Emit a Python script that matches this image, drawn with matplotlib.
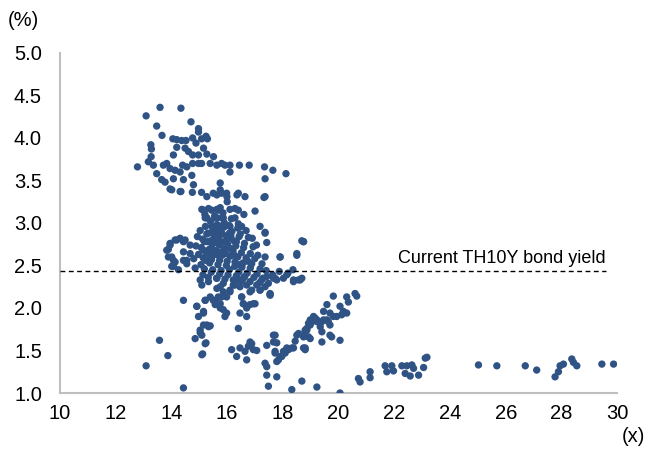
"""Scatter of PE multiple vs TH10Y bond yield, with current yield line."""

import numpy as np
import matplotlib.pyplot as plt

plt.rcParams['font.family'] = ['Liberation Sans', 'DejaVu Sans']

# (x, y) readings, split by area of the chart
upper_points = [
    (13.59, 4.36), (14.34, 4.35), (13.09, 4.26), (14.70, 4.19), (13.47, 4.14),
    (14.97, 4.11), (14.97, 4.07), (13.66, 4.03), (14.05, 3.99), (14.19, 3.98),
    (14.37, 3.97), (14.52, 3.97), (14.76, 4.00), (15.08, 3.99), (15.24, 4.02),
    (15.29, 3.99), (14.88, 3.94), (13.26, 3.92), (13.28, 3.87), (14.19, 3.89),
    (14.49, 3.88), (14.61, 3.84), (15.15, 3.88), (14.76, 3.80), (14.97, 3.80),
    (15.27, 3.81), (15.51, 3.78), (14.07, 3.80), (13.27, 3.78), (13.17, 3.72),
    (12.78, 3.66), (13.35, 3.68), (13.71, 3.68), (13.83, 3.70), (13.95, 3.64),
    (14.13, 3.62), (14.31, 3.60), (14.40, 3.68), (14.55, 3.66), (14.76, 3.70),
    (14.97, 3.70), (15.08, 3.70), (15.39, 3.70), (15.63, 3.68), (15.80, 3.70),
    (15.92, 3.68), (16.10, 3.68), (16.10, 3.60), (16.44, 3.68), (16.79, 3.68),
    (17.34, 3.66), (17.64, 3.62), (18.11, 3.58), (17.36, 3.52), (13.47, 3.58),
    (13.65, 3.51), (13.77, 3.48), (14.07, 3.52), (14.43, 3.51), (14.73, 3.56),
    (14.79, 3.45), (14.01, 3.39), (14.31, 3.37), (15.75, 3.47), (14.34, 3.37),
    (14.75, 3.36), (15.08, 3.36), (15.27, 3.31), (15.63, 3.33), (15.75, 3.39),
    (15.99, 3.31), (16.35, 3.33), (16.64, 3.31), (17.32, 3.30), (13.95, 3.40),
    (15.50, 3.35), (15.80, 3.35), (15.98, 3.35), (16.40, 3.35), (17.36, 3.31),
]

middle_points = [
    (15.09, 3.16), (15.33, 3.17), (15.63, 3.16), (15.75, 3.18), (16.10, 3.16),
    (16.28, 3.17), (17.00, 3.14), (15.27, 3.06), (15.63, 3.06), (15.80, 3.06),
    (16.28, 3.06), (15.45, 2.96), (15.75, 2.96), (16.10, 2.96), (16.52, 2.96),
    (17.18, 2.96), (17.36, 2.88), (18.68, 2.79), (15.15, 3.15), (15.45, 3.15),
    (15.68, 3.15), (16.40, 3.15), (15.21, 3.06), (15.57, 3.06), (15.86, 3.06),
    (17.36, 2.89), (17.42, 2.77), (18.74, 2.78), (18.50, 2.64), (17.90, 2.60),
    (17.36, 2.60), (15.40, 3.02), (15.55, 3.08), (15.90, 3.00), (16.15, 3.05),
    (16.40, 2.99), (15.20, 3.10), (16.60, 3.10), (16.00, 3.25), (15.85, 3.12),
    (18.50, 2.62), (18.74, 2.78),
]

left_points = [
    (13.95, 2.76), (14.19, 2.80), (14.43, 2.78), (14.67, 2.74), (13.89, 2.69),
    (14.01, 2.60), (14.13, 2.54), (14.43, 2.66), (14.55, 2.56), (14.07, 2.49),
    (13.83, 2.68), (13.95, 2.74), (14.13, 2.80), (14.31, 2.82), (14.49, 2.80),
    (13.89, 2.60), (14.07, 2.56), (14.01, 2.49), (14.25, 2.45), (14.43, 2.56),
    (14.55, 2.52), (14.67, 2.64),
]

core_points = [
    (15.03, 2.91), (15.22, 2.96), (15.31, 2.88), (15.52, 2.94), (15.64, 2.98),
    (15.77, 2.89), (15.88, 2.95), (16.07, 2.97), (16.17, 2.90), (16.38, 2.94),
    (16.47, 2.87), (16.68, 2.91), (14.93, 2.84), (15.12, 2.81), (15.27, 2.87),
    (15.41, 2.79), (15.53, 2.85), (15.72, 2.80), (15.83, 2.87), (16.03, 2.81),
    (16.13, 2.85), (16.33, 2.78), (16.43, 2.84), (16.62, 2.76), (16.76, 2.83),
    (14.88, 2.73), (15.07, 2.71), (15.18, 2.78), (15.36, 2.69), (15.46, 2.75),
    (15.62, 2.67), (15.71, 2.74), (15.89, 2.69), (16.01, 2.75), (16.21, 2.67),
    (16.31, 2.73), (16.51, 2.65), (16.59, 2.71), (16.83, 2.64), (16.93, 2.72),
    (14.97, 2.63), (15.14, 2.59), (15.26, 2.65), (15.44, 2.57), (15.56, 2.63),
    (15.73, 2.56), (15.82, 2.62), (16.00, 2.55), (16.11, 2.61), (16.28, 2.54),
    (16.38, 2.60), (16.57, 2.53), (16.68, 2.59), (16.88, 2.52), (16.99, 2.58),
    (15.06, 2.51), (15.18, 2.46), (15.37, 2.53), (15.48, 2.45), (15.67, 2.51),
    (15.78, 2.44), (15.97, 2.50), (16.08, 2.45), (16.27, 2.49), (16.42, 2.42),
    (16.53, 2.48), (16.72, 2.41), (16.83, 2.47), (17.07, 2.40), (17.18, 2.46),
    (15.13, 2.39), (15.32, 2.36), (15.43, 2.42), (15.62, 2.35), (15.73, 2.40),
    (15.92, 2.34), (16.03, 2.39), (16.22, 2.33), (16.33, 2.38), (16.52, 2.32),
    (16.63, 2.37), (16.82, 2.31), (16.96, 2.36), (17.17, 2.30), (17.28, 2.35),
    (17.48, 2.29), (17.63, 2.39), (17.87, 2.43), (18.02, 2.35), (18.18, 2.41),
    (18.36, 2.45), (15.45, 2.89), (15.58, 2.77), (15.66, 2.86), (15.78, 2.76),
    (15.82, 2.66), (15.92, 2.78), (16.08, 2.88), (15.52, 2.68), (15.38, 2.62),
    (16.12, 2.70), (15.95, 2.64), (15.68, 2.62), (16.25, 2.62), (15.30, 2.78),
    (15.15, 2.68), (15.60, 2.92), (15.98, 2.84), (16.24, 2.79), (15.24, 2.56),
    (16.45, 2.51), (16.74, 2.55), (17.10, 2.62), (17.25, 2.52), (14.80, 2.58),
    (14.85, 2.47), (17.40, 2.44), (17.05, 2.74), (16.90, 2.82),
]

lower_points = [
    (15.03, 2.33), (15.09, 2.27), (15.33, 2.31), (15.63, 2.35), (15.75, 2.25),
    (15.86, 2.19), (15.68, 2.13), (15.50, 2.09), (15.57, 2.04), (15.75, 2.00),
    (15.92, 1.90), (15.98, 2.13), (16.10, 2.19), (16.28, 2.27), (16.40, 2.33),
    (16.58, 2.35), (16.70, 2.27), (16.88, 2.21), (17.06, 2.27), (17.24, 2.33),
    (17.42, 2.37), (17.18, 2.21), (17.54, 2.17), (16.52, 2.13), (16.58, 2.05),
    (16.70, 2.00), (16.46, 1.94), (16.70, 1.90), (16.94, 2.05), (15.21, 2.09),
    (14.91, 2.02), (15.15, 1.96), (14.97, 1.90), (15.15, 1.80), (15.33, 1.78),
    (15.03, 1.74), (15.09, 1.68), (14.85, 1.64), (15.21, 1.58), (15.09, 1.45),
    (14.43, 2.09), (16.40, 1.76), (17.72, 2.35), (17.90, 2.60), (18.14, 2.39),
    (18.38, 2.33), (18.62, 2.33), (13.57, 1.62), (13.87, 1.44), (13.09, 1.32),
    (14.43, 1.06), (15.12, 1.46), (15.24, 1.59), (15.39, 1.79), (15.27, 1.80),
    (15.03, 1.71), (16.16, 1.51), (16.34, 1.43), (16.46, 1.53), (16.64, 1.49),
    (16.76, 1.55), (16.88, 1.58), (16.94, 1.51), (16.70, 1.39), (17.06, 1.50),
    (16.82, 1.60), (15.39, 2.13), (15.57, 2.09), (15.75, 2.05), (15.86, 1.98),
    (15.98, 1.94), (15.80, 2.13), (15.63, 2.23), (15.86, 2.29), (16.10, 2.21),
    (16.22, 2.27), (16.46, 2.25), (16.52, 2.13), (16.58, 2.05), (16.82, 2.19),
    (17.18, 2.21), (17.36, 2.25), (17.66, 2.35), (17.78, 2.33), (18.38, 2.31),
    (18.56, 2.33), (18.68, 2.35), (16.82, 2.04), (17.00, 2.05), (17.54, 2.16),
    (14.91, 2.02), (15.21, 2.09), (15.15, 1.94),
]

rising_points = [
    (17.42, 1.56), (17.66, 1.68), (17.78, 1.59), (17.72, 1.47), (17.90, 1.43),
    (18.02, 1.49), (18.14, 1.53), (18.38, 1.53), (18.44, 1.61), (18.50, 1.68),
    (18.74, 1.53), (18.80, 1.74), (18.92, 1.82), (18.98, 1.86), (19.10, 1.90),
    (19.22, 1.86), (17.78, 1.37), (19.81, 2.14), (20.29, 2.13), (20.59, 2.17),
    (20.65, 2.14), (20.35, 2.07), (19.58, 2.04), (19.46, 1.96), (19.69, 1.94),
    (20.05, 2.02), (20.17, 1.96), (19.93, 1.90), (20.29, 1.94), (19.22, 1.84),
    (18.98, 1.80), (19.40, 1.84), (19.58, 1.86), (19.34, 1.78), (19.69, 1.80),
    (18.86, 1.74), (18.74, 1.66), (19.40, 1.72), (19.69, 1.68), (18.98, 1.64),
    (18.56, 1.70), (18.32, 1.53), (18.20, 1.51), (18.08, 1.47), (17.96, 1.43),
    (17.84, 1.39), (17.72, 1.68), (17.66, 1.60), (17.72, 1.49), (18.80, 1.51),
    (19.40, 1.60), (20.05, 1.62), (17.54, 2.15), (20.11, 1.92), (19.81, 1.90),
    (19.63, 1.84), (19.46, 1.86), (19.16, 1.88), (19.04, 1.84), (18.86, 1.76),
    (18.80, 1.72), (19.75, 1.66), (18.92, 1.66), (18.80, 1.53),
]

bottom_points = [
    (17.42, 1.31), (17.42, 1.21), (17.78, 1.19), (17.48, 1.08), (18.32, 1.04),
    (18.68, 1.14), (19.22, 1.07), (20.05, 1.00), (17.36, 1.35),
    (20.71, 1.17), (20.77, 1.13), (21.13, 1.25), (21.13, 1.18), (21.67, 1.32),
    (21.73, 1.25), (21.91, 1.32), (21.97, 1.26), (22.27, 1.32), (22.39, 1.23),
    (22.45, 1.32), (22.57, 1.20), (22.63, 1.33), (22.69, 1.29), (22.87, 1.21),
    (23.05, 1.30), (23.11, 1.41), (23.17, 1.42), (25.02, 1.33), (25.68, 1.32),
    (26.70, 1.32), (27.11, 1.27), (27.77, 1.19), (27.89, 1.25), (27.95, 1.32),
    (28.07, 1.34), (28.37, 1.40), (28.43, 1.36), (28.55, 1.32), (29.45, 1.34),
    (29.87, 1.34),
]

bond_yield = 2.43
yield_line_end = 29.6
yield_label = 'Current TH10Y bond yield'


def main():
    groups = [upper_points, middle_points, left_points, core_points,
              lower_points, rising_points, bottom_points]
    pts = np.array([p for g in groups for p in g])

    fig = plt.figure(figsize=(6.49, 4.51), dpi=100)
    ax = fig.add_axes([0.0925, 0.1286, 0.8585, 0.754])

    ax.scatter(pts[:, 0], pts[:, 1], s=28, color='#2F5385',
               edgecolors='none', zorder=3)

    # current bond yield reference line
    ax.plot([10, yield_line_end], [bond_yield, bond_yield], color='black',
            linestyle=(0, (3.5, 2.5)), linewidth=1, zorder=4)
    ax.text(yield_line_end, bond_yield + 0.05, yield_label, ha='right',
            va='bottom', fontsize=13)

    ax.set_xlim(10, 30)
    ax.set_ylim(1.0, 5.0)
    ax.set_xticks(np.arange(10, 31, 2))
    ax.set_yticks(np.arange(1.0, 5.01, 0.5))
    ax.set_yticklabels([f'{v:.1f}' for v in np.arange(1.0, 5.01, 0.5)])
    ax.tick_params(length=0, labelsize=14.5)
    ax.tick_params(axis='y', pad=13)
    ax.tick_params(axis='x', pad=8)

    for side in ['top', 'right']:
        ax.spines[side].set_visible(False)
    for side in ['left', 'bottom']:
        ax.spines[side].set_color('#BFBFBF')
        ax.spines[side].set_linewidth(1.5)

    fig.text(8 / 649, 1 - 20 / 451, '(%)', fontsize=14.5, va='center')
    fig.text(645 / 649, 1 - 437 / 451, '(x)', fontsize=14.5, va='center',
             ha='right')

    fig.savefig('out.png', dpi=100)


if __name__ == "__main__":
    main()
